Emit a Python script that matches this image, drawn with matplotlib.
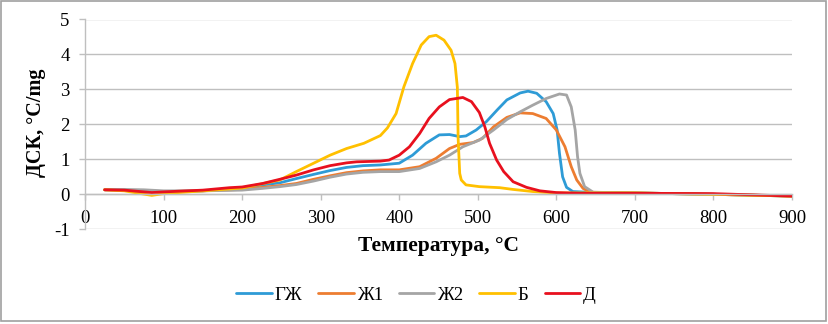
import matplotlib
matplotlib.use("Agg")
import matplotlib.pyplot as plt
from matplotlib.patches import Rectangle

# ---- data ----
T_gzh = [25, 50, 75, 100, 150, 184, 200, 226, 248, 269, 291, 312, 333, 354, 376, 400, 417, 434, 451, 464, 477, 485, 498, 511, 525, 537, 554, 564, 575, 587, 596, 601, 604, 608, 613, 621, 650, 700, 800, 900]
v_gzh = [0.13, 0.12, 0.09, 0.07, 0.10, 0.15, 0.18, 0.27, 0.33, 0.45, 0.57, 0.68, 0.77, 0.82, 0.84, 0.89, 1.12, 1.46, 1.70, 1.71, 1.65, 1.67, 1.84, 2.08, 2.42, 2.70, 2.90, 2.95, 2.89, 2.65, 2.31, 1.84, 1.17, 0.50, 0.20, 0.08, 0.05, 0.04, 0.00, -0.05]

T_zh1 = [25, 50, 75, 100, 150, 200, 226, 248, 269, 291, 312, 333, 354, 376, 400, 426, 447, 464, 477, 494, 506, 520, 537, 554, 570, 587, 600, 611, 619, 626, 634, 643, 700, 800, 900]
v_zh1 = [0.13, 0.12, 0.10, 0.08, 0.10, 0.14, 0.20, 0.25, 0.31, 0.43, 0.53, 0.62, 0.67, 0.70, 0.70, 0.79, 1.03, 1.31, 1.43, 1.48, 1.60, 1.93, 2.20, 2.33, 2.31, 2.17, 1.84, 1.36, 0.79, 0.41, 0.17, 0.06, 0.04, 0.00, -0.05]

T_zh2 = [25, 50, 75, 100, 150, 200, 226, 248, 269, 291, 312, 333, 354, 376, 400, 426, 447, 464, 481, 502, 520, 537, 554, 570, 587, 604, 613, 619, 624, 627, 630, 636, 647, 700, 800, 900]
v_zh2 = [0.13, 0.14, 0.13, 0.10, 0.10, 0.12, 0.17, 0.22, 0.28, 0.38, 0.49, 0.58, 0.63, 0.65, 0.65, 0.74, 0.93, 1.12, 1.36, 1.55, 1.84, 2.14, 2.36, 2.55, 2.74, 2.87, 2.84, 2.50, 1.84, 1.08, 0.60, 0.22, 0.06, 0.04, 0.00, -0.05]

T_b = [25, 50, 85, 100, 150, 200, 248, 269, 291, 312, 333, 355, 376, 385, 396, 406, 417, 428, 438, 447, 457, 466, 471, 474, 475, 477, 479, 485, 502, 528, 545, 570, 600, 700, 800, 900]
v_b = [0.13, 0.10, -0.03, 0.02, 0.10, 0.18, 0.41, 0.65, 0.89, 1.12, 1.31, 1.46, 1.68, 1.90, 2.31, 3.08, 3.74, 4.27, 4.51, 4.55, 4.41, 4.12, 3.74, 3.06, 1.60, 0.60, 0.41, 0.27, 0.22, 0.19, 0.14, 0.08, 0.04, 0.04, 0.00, -0.05]

T_d = [25, 50, 85, 100, 150, 184, 200, 226, 248, 269, 291, 312, 333, 346, 376, 387, 400, 413, 426, 438, 451, 464, 481, 492, 502, 509, 515, 524, 533, 545, 562, 579, 600, 630, 700, 800, 900]
v_d = [0.13, 0.12, 0.05, 0.07, 0.12, 0.19, 0.21, 0.31, 0.43, 0.55, 0.70, 0.82, 0.90, 0.93, 0.95, 0.98, 1.12, 1.36, 1.74, 2.17, 2.50, 2.71, 2.77, 2.65, 2.34, 1.93, 1.46, 0.98, 0.65, 0.36, 0.20, 0.10, 0.05, 0.03, 0.03, 0.02, -0.05]

series = [
    ("ГЖ", T_gzh, v_gzh, "#2E9BD6"),
    ("Ж1", T_zh1, v_zh1, "#ED7D31"),
    ("Ж2", T_zh2, v_zh2, "#A5A5A5"),
    ("Б", T_b, v_b, "#FFC000"),
    ("Д", T_d, v_d, "#E8101E"),
]

x_ticks = list(range(0, 901, 100))
y_ticks = list(range(-1, 6))

plt.rcParams['font.family'] = ['Liberation Serif', 'DejaVu Serif']

fig = plt.figure(figsize=(8.29, 3.24), dpi=100)
ax = fig.add_axes([85/829, 1-229.3/324, (792-85)/829, (229.3-19.5)/324])

for name, T, v, c in series:
    ax.plot(T, v, color=c, lw=2.0, label=name, solid_capstyle='round', solid_joinstyle='round')

ax.set_xlim(0, 900)
ax.set_ylim(-1, 5)
ax.set_xticks(x_ticks)
ax.set_yticks(y_ticks)
ax.set_yticklabels([str(t) for t in y_ticks])
ax.yaxis.grid(True, color="#BFBFBF", lw=1.0)
ax.set_axisbelow(True)

for s in ['top', 'right']:
    ax.spines[s].set_visible(False)
ax.spines['bottom'].set_position(('data', 0))
ax.spines['bottom'].set_color("#BFBFBF")
ax.spines['left'].set_color("#BFBFBF")
ax.spines['bottom'].set_linewidth(1.0)
ax.spines['left'].set_linewidth(1.0)
ax.tick_params(axis='x', direction='out', length=4, width=1, color="#BFBFBF", pad=7.5, labelsize=13.5)
ax.tick_params(axis='y', direction='out', length=4, width=1, color="#BFBFBF", pad=7, labelsize=13.5)

fig.text(438.5/829, 1-246/324, "Температура, °C", ha='center', va='center', fontsize=15.5, fontweight='bold')
fig.text(36/829, 1-123/324, "ДСК, °C/mg", ha='center', va='center', rotation=90, fontsize=14.5, fontweight='bold')

handles, labels = ax.get_legend_handles_labels()
fig.legend(handles, labels, loc='center', bbox_to_anchor=(416/829, 1-295/324), ncol=5, frameon=False,
           fontsize=13.5, handlelength=1.9, handletextpad=0.15, columnspacing=0.85)

fig.patches.append(Rectangle((1/829, 1-321/324), 825/829, 320/324, transform=fig.transFigure,
                             fill=False, edgecolor="#A0A0A0", lw=1.2))

fig.savefig("out.png", dpi=100)
